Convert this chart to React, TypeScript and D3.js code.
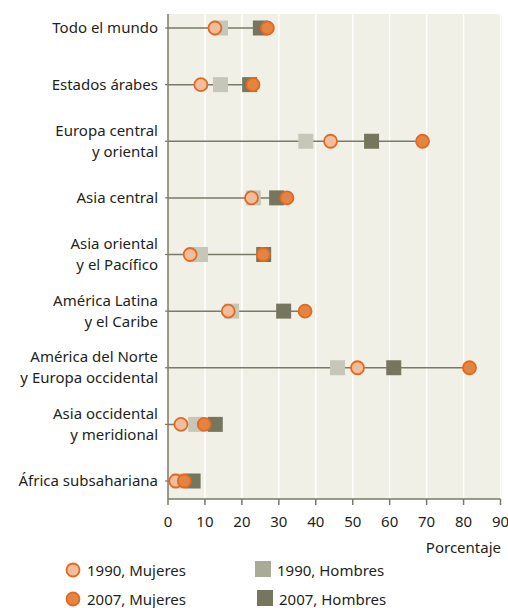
import React from "react";
import * as d3 from "d3";

const categories = [
  ["Todo el mundo"],
  ["Estados árabes"],
  ["Europa central", "y oriental"],
  ["Asia central"],
  ["Asia oriental", "y el Pacífico"],
  ["América Latina", "y el Caribe"],
  ["América del Norte", "y Europa occidental"],
  ["Asia occidental", "y meridional"],
  ["África subsahariana"],
];
const women1990 = [12.7, 8.9, 44.0, 22.6, 6.0, 16.3, 51.3, 3.5, 2.1];
const men1990 = [14.2, 14.2, 37.3, 23.1, 8.8, 17.2, 45.9, 7.5, 3.0];
const women2007 = [26.9, 23.0, 68.9, 32.2, 25.8, 37.1, 81.6, 9.8, 4.4];
const men2007 = [25.0, 22.1, 55.1, 29.4, 25.9, 31.3, 61.1, 12.8, 6.8];
const xTicks = [0, 10, 20, 30, 40, 50, 60, 70, 80, 90];

const FONT = "'Noto Sans', sans-serif";
const C_AXIS = "#7a7a68";
const C_BG = "#f0f0e7";
const C_M90 = "#c6c7b9";
const C_M90_LEG = "#a9aa98";
const C_M07 = "#76765f";
const C_W90 = "#f2bd98";
const C_W07 = "#e5843f";
const C_WSTROKE = "#e06a25";

export default function App() {
  const W = 508, H = 608;
  const x = d3.scaleLinear().domain([0, 90]).range([168, 500.5]);
  const keys = categories.map((c) => c.join(" "));
  const y = d3.scalePoint().domain(keys).range([28, 481]);
  const top = 14, bottom = 499;
  const sq = 15;
  const r = 6.5;
  return (
    <svg width={W} height={H} style={{ position: "absolute", left: 0, top: 0 }} fontFamily={FONT}>
      <rect x={x(0)} y={top} width={x(90) - x(0) + 1} height={bottom - top} fill={C_BG} />
      {xTicks.slice(1).map((t) => (
        <line key={t} x1={x(t)} x2={x(t)} y1={top} y2={bottom} stroke="#ffffff" strokeWidth={1.5} />
      ))}
      {/* axes */}
      <line x1={x(0)} x2={x(0)} y1={top} y2={bottom} stroke={C_AXIS} strokeWidth={1.5} />
      <line x1={x(0)} x2={x(90)} y1={bottom} y2={bottom} stroke={C_AXIS} strokeWidth={1.5} />
      {xTicks.map((t) => (
        <g key={t}>
          <line x1={x(t)} x2={x(t)} y1={bottom} y2={bottom + 6} stroke={C_AXIS} strokeWidth={1.5} />
          <text x={x(t)} y={527} textAnchor="middle" fontSize={15} fill="#231f20">{t}</text>
        </g>
      ))}
      <text x={501} y={553} textAnchor="end" fontSize={15} fill="#231f20">Porcentaje</text>
      {categories.map((lines, i) => {
        const cy = y(keys[i])!;
        const maxV = Math.max(women1990[i], men1990[i], women2007[i], men2007[i]);
        const lh = 21;
        const y0 = cy - ((lines.length - 1) * lh) / 2 + 5;
        return (
          <g key={i}>
            <line x1={x(0) - 3} x2={x(0)} y1={cy} y2={cy} stroke={C_AXIS} strokeWidth={1.2} />
            <line x1={x(0)} x2={x(maxV)} y1={cy} y2={cy} stroke={C_AXIS} strokeWidth={1.5} />
            {lines.map((l, j) => (
              <text key={j} x={158} y={y0 + j * lh} textAnchor="end" fontSize={15} fill="#231f20">{l}</text>
            ))}
            <rect x={x(men1990[i]) - sq / 2} y={cy - sq / 2} width={sq} height={sq} fill={C_M90} />
            <rect x={x(men2007[i]) - sq / 2} y={cy - sq / 2} width={sq} height={sq} fill={C_M07} />
            <circle cx={x(women1990[i])} cy={cy} r={r} fill={C_W90} stroke={C_WSTROKE} strokeWidth={1.8} />
            <circle cx={x(women2007[i])} cy={cy} r={r} fill={C_W07} stroke={C_WSTROKE} strokeWidth={1.8} />
          </g>
        );
      })}
      {/* legend */}
      <circle cx={73} cy={570} r={r} fill={C_W90} stroke={C_WSTROKE} strokeWidth={1.8} />
      <text x={87} y={575.5} fontSize={15} fill="#231f20">1990, Mujeres</text>
      <circle cx={73} cy={599} r={r} fill={C_W07} stroke={C_WSTROKE} strokeWidth={1.8} />
      <text x={87} y={604.5} fontSize={15} fill="#231f20">2007, Mujeres</text>
      <rect x={255} y={561} width={16} height={16} fill={C_M90_LEG} />
      <text x={277} y={575.5} fontSize={15} fill="#231f20">1990, Hombres</text>
      <rect x={257} y={590} width={16} height={16} fill={C_M07} />
      <text x={279} y={604.5} fontSize={15} fill="#231f20">2007, Hombres</text>
    </svg>
  );
}
